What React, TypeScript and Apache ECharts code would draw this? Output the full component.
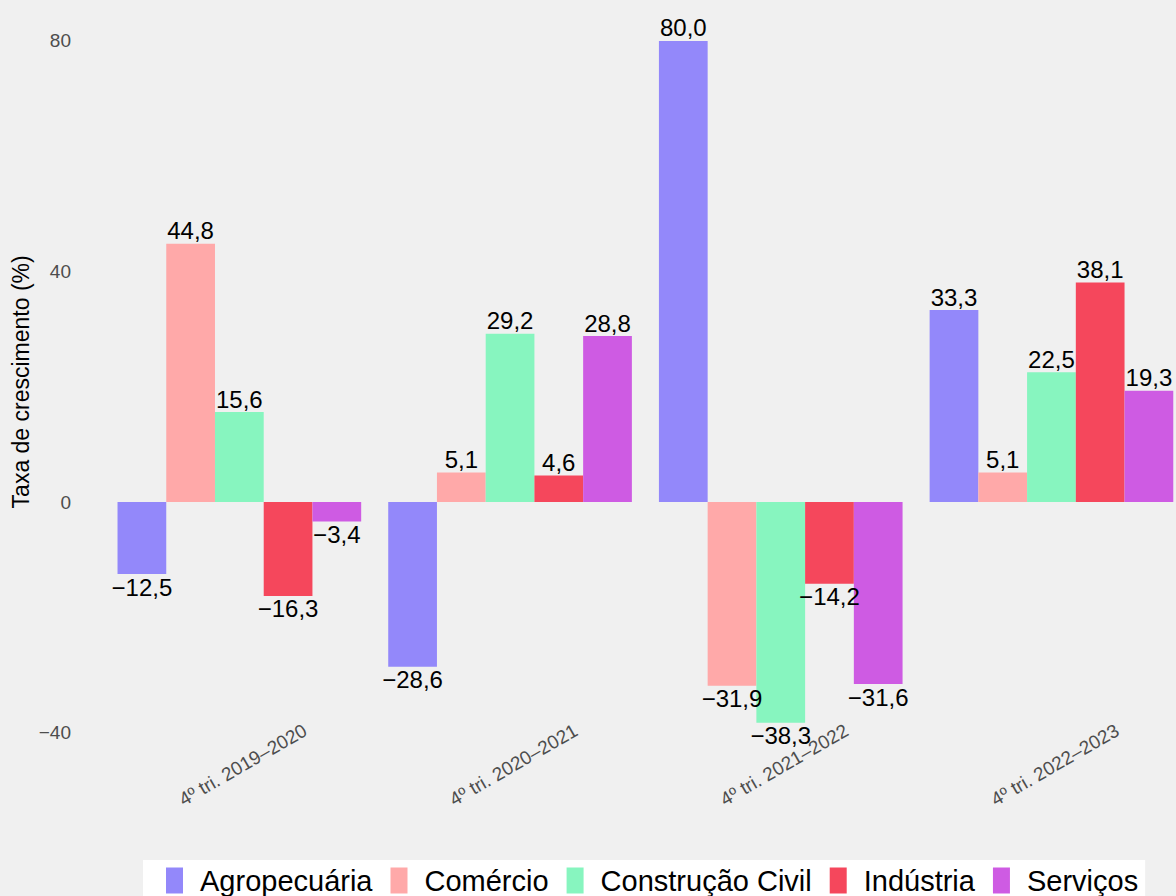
import React, { useEffect, useRef } from "react";
import * as echarts from "echarts";

const categories = ["4º tri. 2019–2020", "4º tri. 2020–2021", "4º tri. 2021–2022", "4º tri. 2022–2023"];
const seriesNames = ["Agropecuária", "Comércio", "Construção Civil", "Indústria", "Serviços"];
const agropecuaria = [-12.5, -28.6, 80.0, 33.3];
const comercio = [44.8, 5.1, -31.9, 5.1];
const construcao = [15.6, 29.2, -38.3, 22.5];
const industria = [-16.3, 4.6, -14.2, 38.1];
const servicos = [-3.4, 28.8, -31.6, 19.3];
const yTicks = [-40, 0, 40, 80];
const colors = ["#9388FA", "#FFA9A9", "#87F5BF", "#F5475C", "#CE5BE3"];

const FONT = '"Liberation Sans", Arial, Helvetica, sans-serif';

const fmt = (v: number) => v.toFixed(1).replace(".", ",").replace("-", "\u2212");

export default function App() {
  const ref = useRef<HTMLDivElement>(null);
  useEffect(() => {
    if (!ref.current) return;
    const chart = echarts.init(ref.current, undefined, { renderer: "svg" });
    const all = [agropecuaria, comercio, construcao, industria, servicos];
    const series = all.map((vals, i) => ({
      name: seriesNames[i],
      type: "bar",
      barWidth: 48.73,
      barGap: "0%",
      itemStyle: { color: colors[i] },
      data: vals.map((v) => ({
        value: v,
        label: { position: v >= 0 ? "top" : "bottom" },
      })),
      label: {
        show: true,
        distance: 1,
        color: "#000",
        fontSize: 24,
        fontFamily: FONT,
        formatter: (p: any) => fmt(p.value),
      },
    }));
    chart.setOption({
      animation: false,
      backgroundColor: "#F0F0F0",
      textStyle: { fontFamily: FONT },
      grid: {
        left: 104,
        top: 6.9,
        width: 1082.8,
        height: 749.9,
        containLabel: false,
        outerBoundsMode: "none",
      },
      legend: {
        left: 143,
        top: 860,
        backgroundColor: "#FFFFFF",
        padding: [6, 7, 10, 23],
        icon: "rect",
        itemWidth: 17,
        itemHeight: 26,
        itemGap: 18,
        textStyle: { fontSize: 29, color: "#000", fontFamily: FONT, padding: [0, 0, 0, 12] },
        data: seriesNames,
      },
      xAxis: {
        type: "category",
        data: categories,
        axisLine: { show: false },
        axisTick: { show: false },
        splitLine: { show: false },
        axisLabel: {
          rotate: 30,
          align: "center",
          verticalAlign: "middle",
          margin: 10,
          padding: [0, 0, 0, 8],
          fontSize: 19,
          color: "#4D4D4D",
          fontFamily: FONT,
        },
      },
      yAxis: {
        type: "value",
        min: -44.215,
        max: 85.915,
        name: "Taxa de crescimento (%)",
        nameLocation: "middle",
        nameRotate: 90,
        nameGap: 72,
        nameMoveOverlap: false,
        nameTextStyle: { fontSize: 23, color: "#000", fontFamily: FONT },
        axisLine: { show: false },
        axisTick: { show: false },
        splitLine: { show: false },
        axisLabel: {
          customValues: yTicks,
          margin: 33,
          fontSize: 19,
          color: "#4D4D4D",
          fontFamily: FONT,
          formatter: (v: number) => String(v).replace("-", "\u2212"),
        },
      },
      series,
    });
    return () => chart.dispose();
  }, []);
  return (
    <div style={{ position: "fixed", left: 0, top: 0, width: 1176, height: 896, overflow: "hidden" }}>
      <div ref={ref} style={{ position: "absolute", left: 0, top: 0, width: 1220, height: 896 }} />
    </div>
  );
}
